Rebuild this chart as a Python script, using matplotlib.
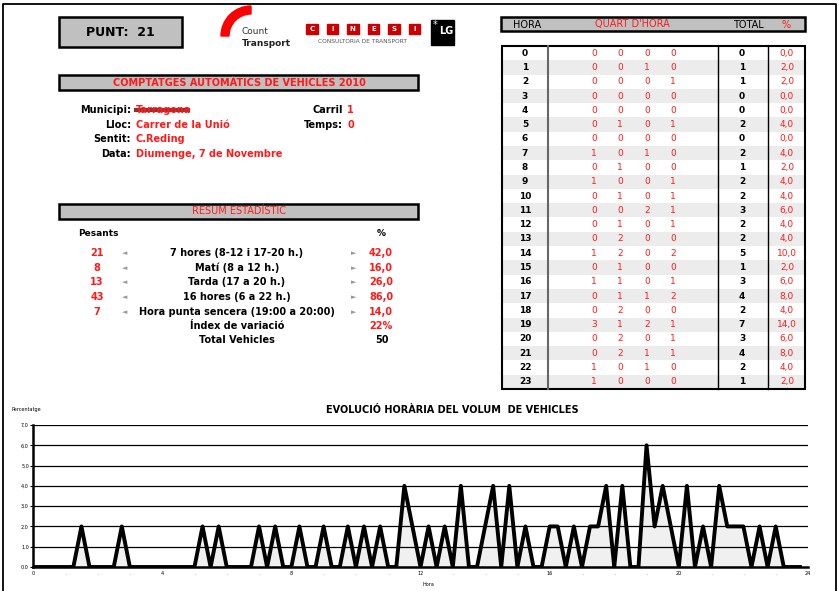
import numpy as np
import matplotlib
matplotlib.use("Agg")
import matplotlib.pyplot as plt
from matplotlib.patches import Rectangle, Wedge

plt.rcParams['font.family'] = ['DejaVu Sans']
plt.rcParams['hatch.color'] = "#d4d4d4"
plt.rcParams['hatch.linewidth'] = 0.6

# ---- data ----
hours = list(range(24))
quarters = [
    [0, 0, 0, 0], [0, 0, 1, 0], [0, 0, 0, 1], [0, 0, 0, 0],
    [0, 0, 0, 0], [0, 1, 0, 1], [0, 0, 0, 0], [1, 0, 1, 0],
    [0, 1, 0, 0], [1, 0, 0, 1], [0, 1, 0, 1], [0, 0, 2, 1],
    [0, 1, 0, 1], [0, 2, 0, 0], [1, 2, 0, 2], [0, 1, 0, 0],
    [1, 1, 0, 1], [0, 1, 1, 2], [0, 2, 0, 0], [3, 1, 2, 1],
    [0, 2, 0, 1], [0, 2, 1, 1], [1, 0, 1, 0], [1, 0, 0, 0],
]
totals = [0, 1, 1, 0, 0, 2, 0, 2, 1, 2, 2, 3, 2, 2, 5, 1, 3, 4, 2, 7, 3, 4, 2, 1]
pcts = [0.0, 2.0, 2.0, 0.0, 0.0, 4.0, 0.0, 4.0, 2.0, 4.0, 4.0, 6.0,
        4.0, 4.0, 10.0, 2.0, 6.0, 8.0, 4.0, 14.0, 6.0, 8.0, 4.0, 2.0]
total_vehicles = 50

info_labels = ["Municipi:", "Lloc:", "Sentit:", "Data:"]
info_values = ["Tarragona", "Carrer de la Unió", "C.Reding", "Diumenge, 7 de Novembre"]

sum_pesants = ["21", "8", "13", "43", "7"]
sum_labels = ["7 hores (8-12 i 17-20 h.)", "Matí (8 a 12 h.)", "Tarda (17 a 20 h.)",
              "16 hores (6 a 22 h.)", "Hora punta sencera (19:00 a 20:00)"]
sum_pct = ["42,0", "16,0", "26,0", "86,0", "14,0"]
index_variacio = "22%"

# quarter-hour percentages for the chart
q_time = [h + q * 0.25 for h in hours for q in range(4)]
q_pct = [v * 100.0 / total_vehicles for row in quarters for v in row]

RED = "#ff1a1a"
GRAY = "#c0c0c0"

fig = plt.figure(figsize=(8.39, 5.91), dpi=100)
ax = fig.add_axes([0, 0, 1, 1])
ax.set_xlim(0, 839)
ax.set_ylim(591, 0)
ax.axis("off")

# outer frame
ax.plot([3, 3, 836, 836], [591, 4, 4, 591], color="black", lw=1.3)

def box(x0, y0, x1, y1):
    ax.add_patch(Rectangle((x0, y0), x1 - x0, y1 - y0, facecolor=GRAY,
                           edgecolor="black", lw=1.8))

# PUNT box
box(59, 17, 182, 47)
ax.text(120, 32, "PUNT:  21", ha="center", va="center", fontsize=9, fontweight="bold")

# Count Transport logo
ax.add_patch(Wedge((251, 36), 30, 180, 270, width=8, color="#ff0000"))
ax.text(242, 31, "Count", fontsize=6.5, color="#333333", va="center")
ax.text(242, 43, "Transport", fontsize=6.5, fontweight="bold", color="#222222", va="center")

# CINESI logo
for i, ch in enumerate("CINESI"):
    x0 = 306 + i * 20.5
    ax.add_patch(Rectangle((x0, 24), 11.5, 10, color="#cc0000"))
    ax.text(x0 + 5.75, 29.3, ch, color="white", fontsize=5, fontweight="bold",
            ha="center", va="center")
ax.text(362, 41.5, "CONSULTORIA DE TRANSPORT", fontsize=4.2, color="#555555",
        ha="center", va="center")

# LG logo
ax.add_patch(Rectangle((431, 20), 23, 25, color="black"))
ax.text(446, 31, "LG", color="white", fontsize=7, fontweight="bold", ha="center", va="center")
ax.text(435, 25, "*", color="white", fontsize=7, ha="center", va="center")

# title box
box(59, 75, 418, 90)
ax.text(239, 83, "COMPTATGES AUTOMÀTICS DE VEHICLES 2010", ha="center", va="center",
        fontsize=7, fontweight="bold", color=RED)

info_y = [110, 125, 139, 154]
for lab, val, y in zip(info_labels, info_values, info_y):
    ax.text(131, y, lab, ha="right", va="center", fontsize=7, fontweight="bold")
    ax.text(136, y, val, ha="left", va="center", fontsize=7, fontweight="bold", color=RED)
ax.plot([136, 188], [110, 110], color="#6b0000", lw=3, alpha=0.8)

ax.text(343, 110, "Carril", ha="right", va="center", fontsize=7, fontweight="bold")
ax.text(347, 110, "1", ha="left", va="center", fontsize=7, fontweight="bold", color=RED)
ax.text(343, 125, "Temps:", ha="right", va="center", fontsize=7, fontweight="bold")
ax.text(347, 125, "0", ha="left", va="center", fontsize=7, fontweight="bold", color=RED)

# summary
box(59, 204, 418, 219)
ax.text(239, 211.5, "RESUM ESTADÍSTIC", ha="center", va="center", fontsize=7, color=RED)
ax.text(78, 233, "Pesants", ha="left", va="center", fontsize=6.5, fontweight="bold")
ax.text(381, 233, "%", ha="center", va="center", fontsize=6.5, fontweight="bold")
sum_y = [253, 268, 282, 297, 312]
for p, lab, pc, y in zip(sum_pesants, sum_labels, sum_pct, sum_y):
    ax.text(97, y, p, ha="center", va="center", fontsize=7, fontweight="bold", color=RED)
    ax.text(125, y, "\u25c4", ha="center", va="center", fontsize=5, color="#999999")
    ax.text(237, y, lab, ha="center", va="center", fontsize=7, fontweight="bold")
    ax.text(354, y, "\u25ba", ha="center", va="center", fontsize=5, color="#999999")
    ax.text(393, y, pc, ha="right", va="center", fontsize=7, fontweight="bold", color=RED)
ax.text(237, 326, "Índex de variació", ha="center", va="center", fontsize=7, fontweight="bold")
ax.text(393, 326, index_variacio, ha="right", va="center", fontsize=7, fontweight="bold", color=RED)
ax.text(237, 340, "Total Vehicles", ha="center", va="center", fontsize=7, fontweight="bold")
ax.text(389, 340, str(total_vehicles), ha="right", va="center", fontsize=7, fontweight="bold")

# hourly table
box(501, 17, 805, 31)
ax.text(527, 24.5, "HORA", ha="center", va="center", fontsize=7)
ax.text(632, 24.5, "QUART D'HORA", ha="center", va="center", fontsize=7, color=RED)
ax.text(748, 24.5, "TOTAL", ha="center", va="center", fontsize=7)
ax.text(786, 24.5, "%", ha="center", va="center", fontsize=7, color=RED)

t_top, t_bot = 46, 389
rh = (t_bot - t_top) / len(hours)
qx = [594, 620, 647, 673]
for i, h in enumerate(hours):
    y0 = t_top + i * rh
    yc = y0 + rh / 2
    if i % 2 == 1:
        ax.add_patch(Rectangle((502, y0), 303, rh, facecolor="#ececec",
                               edgecolor="none", hatch="....", lw=0))
    ax.text(525, yc, str(h), ha="center", va="center", fontsize=6.5, fontweight="bold")
    for x, v in zip(qx, quarters[i]):
        ax.text(x, yc, str(v), ha="center", va="center", fontsize=6.5, color=RED)
    ax.text(742, yc, str(totals[i]), ha="center", va="center", fontsize=6.5, fontweight="bold")
    ax.text(787, yc, f"{pcts[i]:.1f}".replace(".", ","), ha="center", va="center",
            fontsize=6.5, color=RED)
ax.add_patch(Rectangle((502, t_top), 303, t_bot - t_top, fill=False, edgecolor="black", lw=1.5))
ax.plot([548, 548], [t_top, t_bot], color="#666666", lw=1.5)
ax.plot([718, 718], [t_top, t_bot], color="black", lw=1)
ax.plot([768, 768], [t_top, t_bot], color="black", lw=1)

# chart
ax.text(452, 410, "EVOLUCIÓ HORÀRIA DEL VOLUM  DE VEHICLES", ha="center", va="center",
        fontsize=7, fontweight="bold")
ax.text(12, 410, "Percentatge", ha="left", va="center", fontsize=3.5)
ax.text(428, 585, "Hora", ha="center", va="center", fontsize=3.5)

cax = fig.add_axes([33 / 839, (591 - 567) / 591, 775 / 839, 142 / 591])
cax.set_xlim(0, 24)
cax.set_ylim(0, 7)
cax.fill_between(q_time, q_pct, color="#f0f0f0", zorder=1)
cax.plot(q_time, q_pct, color="black", lw=2.8, zorder=3)
for yv in range(1, 8):
    cax.axhline(yv, color="black", lw=0.9, zorder=2)
cax.set_yticks(range(8))
cax.set_yticklabels([f"{v},0" for v in range(8)], fontsize=3.5)
cax.set_xticks(range(0, 25, 4))
cax.set_xticklabels([str(v) for v in range(0, 25, 4)], fontsize=3.5)
cax.set_xticks([v for v in range(25) if v % 4], minor=True)
cax.set_xticklabels(["·" for v in range(25) if v % 4], minor=True, fontsize=6, color="#aaaaaa")
cax.tick_params(axis="x", which="both", length=0, pad=3)
cax.tick_params(axis="y", length=2, width=0.8, pad=1)
for s in ["top", "right"]:
    cax.spines[s].set_visible(False)
cax.spines["left"].set_linewidth(1.8)
cax.spines["bottom"].set_linewidth(1.8)
cax.patch.set_alpha(0)

fig.savefig("out.png", dpi=100)
